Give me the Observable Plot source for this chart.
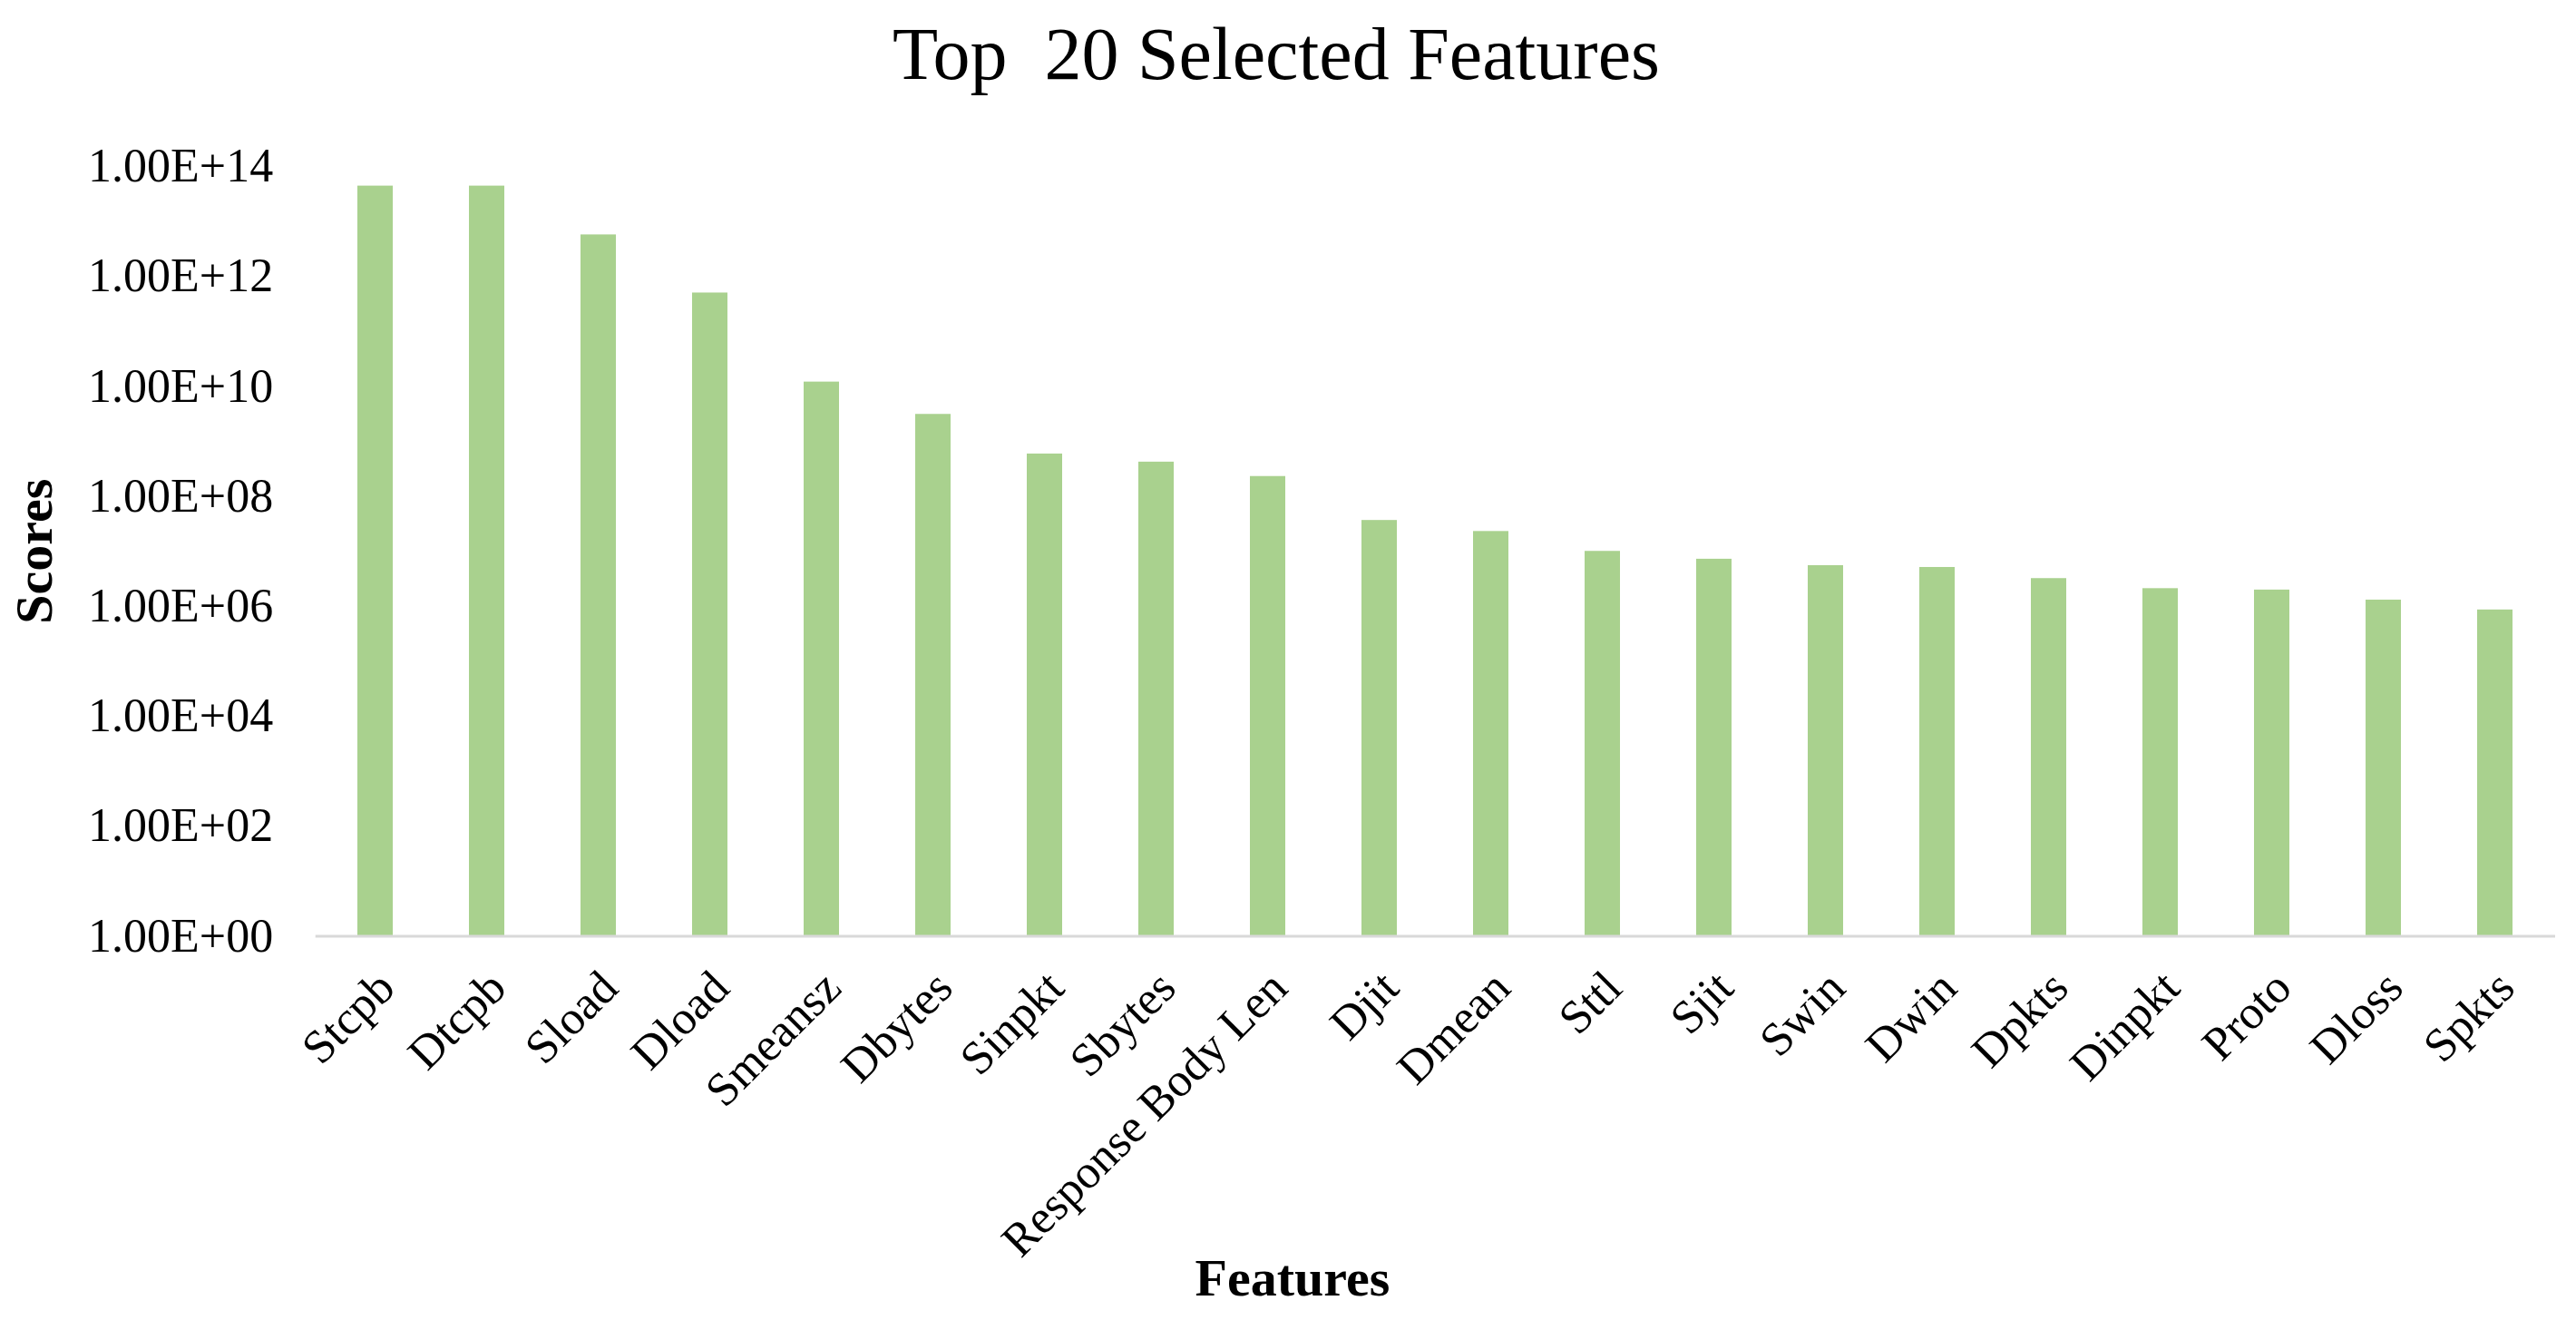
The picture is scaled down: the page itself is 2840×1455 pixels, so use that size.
<!DOCTYPE html>
<html><head><meta charset="utf-8">
<script src="https://cdn.jsdelivr.net/npm/d3@7"></script>
<script src="https://cdn.jsdelivr.net/npm/@observablehq/plot@0.6"></script>
<style>
html,body{margin:0;padding:0;background:#fff;}
#title{height:120px;box-sizing:border-box;padding-top:19px;padding-right:26px;font:82px/1 'Liberation Serif','Times New Roman',serif;text-align:center;white-space:pre;color:#000;}
</style></head><body>
<div id="title">Top  20 Selected Features</div>
<div id="chart"></div>
<script>
const features = ["Stcpb","Dtcpb","Sload","Dload","Smeansz","Dbytes","Sinpkt","Sbytes","Response Body Len","Djit","Dmean","Sttl","Sjit","Swin","Dwin","Dpkts","Dinpkt","Proto","Dloss","Spkts"];
const scores = [4.4e13, 4.4e13, 5.7e12, 5.0e11, 1.2e10, 3.1e9, 5.9e8, 4.2e8, 2.3e8, 3.65e7, 2.3e7, 1.0e7, 7.2e6, 5.5e6, 5.1e6, 3.2e6, 2.1e6, 1.98e6, 1.3e6, 8.6e5];
const yTickValues = [1, 1e2, 1e4, 1e6, 1e8, 1e10, 1e12, 1e14];
const yTickLabels = ["1.00E+00","1.00E+02","1.00E+04","1.00E+06","1.00E+08","1.00E+10","1.00E+12","1.00E+14"];
const xTitle = "Features";
const yTitle = "Scores";

const data = features.map((f, i) => ({feature: f, score: scores[i]}));
const plot = Plot.plot({
  width: 2840, height: 1335,
  marginTop: 63, marginBottom: 423.5, marginLeft: 347.7, marginRight: 23,
  style: {fontFamily: "'Liberation Serif','Times New Roman',serif", fontSize: "52px", background: "#fff", color: "#000", overflow: "visible"},
  x: {domain: features, paddingInner: 0.68, paddingOuter: 0.34, label: null},
  y: {type: "log", domain: [1, 1e14], label: null},
  marks: [
    Plot.barY(data, {x: "feature", y1: 1, y2: "score", fill: "#a9d18e"}),
    Plot.ruleY([1], {stroke: "#d9d9d9", strokeWidth: 3}),
    Plot.axisY({ticks: yTickValues, tickFormat: d => yTickLabels[yTickValues.indexOf(d)], tickSize: 0, tickPadding: 47, fontSize: 52, label: null}),
    Plot.axisX({tickRotate: -45, tickSize: 0, tickPadding: 48, fontSize: 52, label: null, dx: 12}),
    Plot.text([yTitle], {text: d => d, frameAnchor: "left", textAnchor: "middle", dx: -291, rotate: -90, lineAnchor: "bottom", fontWeight: "bold", fontSize: 58}),
    Plot.text([xTitle], {text: d => d, frameAnchor: "bottom", textAnchor: "middle", dx: -158, dy: 395.5, lineAnchor: "bottom", fontWeight: "bold", fontSize: 58})
  ]
});
document.getElementById("chart").appendChild(plot);
</script>
</body></html>
